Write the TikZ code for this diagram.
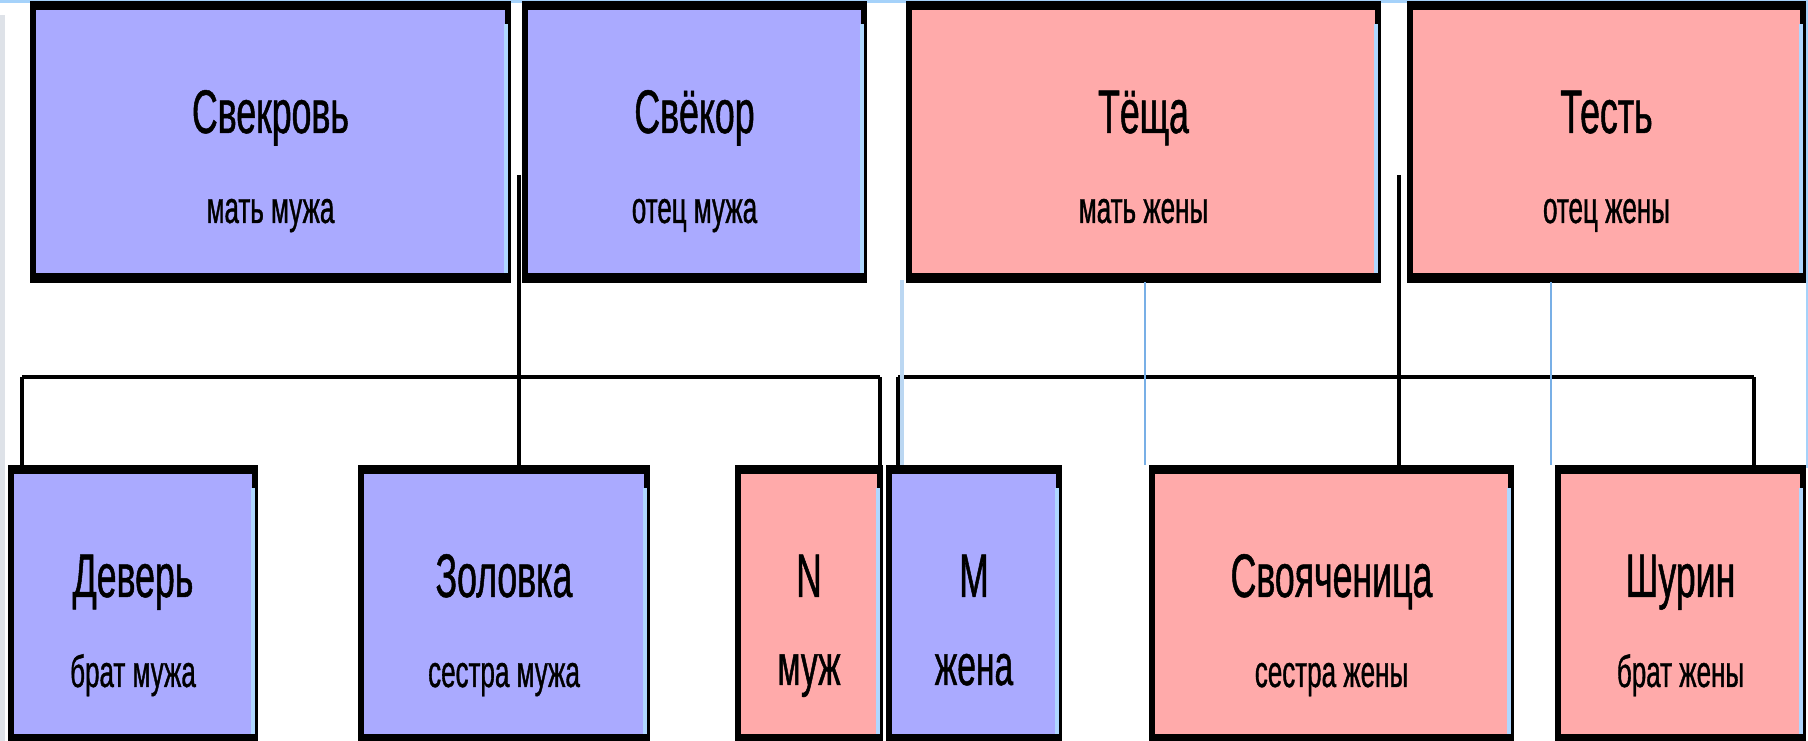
\documentclass[tikz,border=0pt]{standalone}
\usepackage{fontspec}
\setmainfont{Liberation Sans}[FakeStretch=0.58, FakeBold=0.8]
\definecolor{husbside}{RGB}{170,170,255}
\definecolor{wifeside}{RGB}{255,170,170}
\definecolor{glint}{RGB}{175,215,255}
\definecolor{ghostline}{RGB}{120,175,230}
\definecolor{slidetop}{RGB}{165,210,250}
\definecolor{slideedge}{RGB}{222,226,232}
\tikzset{
  kin/.style={draw=black, line width=0.12cm, inner sep=0pt},
  kinname/.style={anchor=base, inner sep=0pt, font=\fontsize{35pt}{40pt}\selectfont},
  kinrole/.style={anchor=base, inner sep=0pt, font=\fontsize{25.5pt}{30pt}\selectfont},
  kinrolebig/.style={kinrole, font=\fontsize{33pt}{38pt}\selectfont},
  bus/.style={line width=0.09cm},
  drop/.style={line width=0.07cm},
  ghost/.style={draw=ghostline, line width=0.04cm},
}
\begin{document}
\begin{tikzpicture}
    % Slide frame
    \useasboundingbox (0,0) rectangle (36.16,-14.82);
    \fill[white] (0,0) rectangle (36.16,-14.82);
    \fill[slidetop] (0,0) rectangle (36.16,-0.06);
    \fill[slidetop] (36.12,0) rectangle (36.16,-9.36);
    \fill[slideedge] (0,-0.3) rectangle (0.1,-14.82);

    % Parents of the husband and of the wife
    \node[kin, fill=husbside, minimum width=9.5cm, minimum height=5.4cm] (sv) at (5.41,-2.84) {};
    \node[kin, fill=husbside, minimum width=6.78cm, minimum height=5.4cm] (svk) at (13.89,-2.84) {};
    \node[kin, fill=wifeside, minimum width=9.38cm, minimum height=5.4cm] (tesh) at (22.87,-2.84) {};
    \node[kin, fill=wifeside, minimum width=7.86cm, minimum height=5.4cm] (test) at (32.13,-2.84) {};

    % Children row
    \node[kin, fill=husbside, minimum width=4.88cm, minimum height=5.34cm] (dev) at (2.66,-12.09) {};
    \node[kin, fill=husbside, minimum width=5.72cm, minimum height=5.34cm] (zol) at (10.08,-12.09) {};
    \node[kin, fill=wifeside, minimum width=2.84cm, minimum height=5.34cm] (muzh) at (16.18,-12.09) {};
    \node[kin, fill=husbside, minimum width=3.4cm, minimum height=5.34cm] (zhena) at (19.48,-12.09) {};
    \node[kin, fill=wifeside, minimum width=7.18cm, minimum height=5.34cm] (svoy) at (26.63,-12.09) {};
    \node[kin, fill=wifeside, minimum width=4.9cm, minimum height=5.34cm] (shur) at (33.61,-12.09) {};

    % Glint on the right side, heavy top and bottom edges
    \foreach \k in {sv,svk,tesh,test,dev,zol,muzh,zhena,svoy,shur} {
        \fill[glint] ([xshift=-0.14cm,yshift=-0.4cm]\k.north east) rectangle ([xshift=-0.06cm]\k.south east);
        \draw[line width=0.18cm] ([yshift=-0.03cm]\k.north west) -- ([yshift=-0.03cm]\k.north east);
        \draw[line width=0.2cm] ([yshift=0.04cm]\k.south west) -- ([yshift=0.04cm]\k.south east);
    }

    % Names and roles
    \node[kinname] (svT) at ([yshift=-2.58cm]sv.north) {Свекровь};
    \node[kinrole] (svS) at ([yshift=-4.38cm]sv.north) {мать мужа};
    \node[kinname] (svkT) at ([yshift=-2.58cm]svk.north) {Свёкор};
    \node[kinrole] (svkS) at ([yshift=-4.38cm]svk.north) {отец мужа};
    \node[kinname] (teshT) at ([yshift=-2.58cm]tesh.north) {Тёща};
    \node[kinrole] (teshS) at ([yshift=-4.38cm]tesh.north) {мать жены};
    \node[kinname] (testT) at ([yshift=-2.58cm]test.north) {Тесть};
    \node[kinrole] (testS) at ([yshift=-4.38cm]test.north) {отец жены};
    \node[kinname] (devT) at ([yshift=-2.58cm]dev.north) {Деверь};
    \node[kinrole] (devS) at ([yshift=-4.38cm]dev.north) {брат мужа};
    \node[kinname] (zolT) at ([yshift=-2.58cm]zol.north) {Золовка};
    \node[kinrole] (zolS) at ([yshift=-4.38cm]zol.north) {сестра мужа};
    \node[kinname] (muzhT) at ([yshift=-2.58cm]muzh.north) {N};
    \node[kinrolebig] (muzhS) at ([yshift=-4.34cm]muzh.north) {муж};
    \node[kinname] (zhenaT) at ([yshift=-2.58cm]zhena.north) {M};
    \node[kinrolebig] (zhenaS) at ([yshift=-4.34cm]zhena.north) {жена};
    \node[kinname] (svoyT) at ([yshift=-2.58cm]svoy.north) {Свояченица};
    \node[kinrole] (svoyS) at ([yshift=-4.38cm]svoy.north) {сестра жены};
    \node[kinname] (shurT) at ([yshift=-2.58cm]shur.north) {Шурин};
    \node[kinrole] (shurS) at ([yshift=-4.38cm]shur.north) {брат жены};

    % Husband's family line
    \coordinate (buslevel) at (0,-7.54);
    \coordinate (husbandp) at (10.38,-3.5);
    \coordinate (ldev) at ([xshift=0.28cm]dev.north west);
    \coordinate (lmuzh) at ([xshift=-0.06cm]muzh.north east);
    \draw[bus] (ldev |- buslevel) -- (lmuzh |- buslevel);
    \draw[drop] (ldev) -- (ldev |- buslevel);
    \draw[drop] (lmuzh) -- (lmuzh |- buslevel);
    \draw[drop] (husbandp) -- (husbandp |- zol.north);

    % Wife's family line
    \coordinate (wifep) at (27.98,-3.5);
    \coordinate (rzhena) at ([xshift=0.24cm]zhena.north west);
    \coordinate (rshur) at ([xshift=-1.04cm]shur.north east);
    \draw[bus] (rzhena |- buslevel) -- (rshur |- buslevel);
    \draw[drop] (rzhena) -- (rzhena |- buslevel);
    \draw[drop] (rshur) -- (rshur |- buslevel);
    \draw[drop] (wifep) -- (wifep |- svoy.north);

    % Faint guide lines
    \draw[ghost, line width=0.08cm, draw=ghostline!50] ([xshift=0.32cm,yshift=0.06cm]zhena.north west) -- ++(0,3.7);
    \draw[ghost] ([xshift=-0.08cm,yshift=0.06cm]svoy.north west) -- ++(0,3.66);
    \draw[ghost] ([xshift=-0.08cm,yshift=0.06cm]shur.north west) -- ++(0,3.66);
\end{tikzpicture}
\end{document}
